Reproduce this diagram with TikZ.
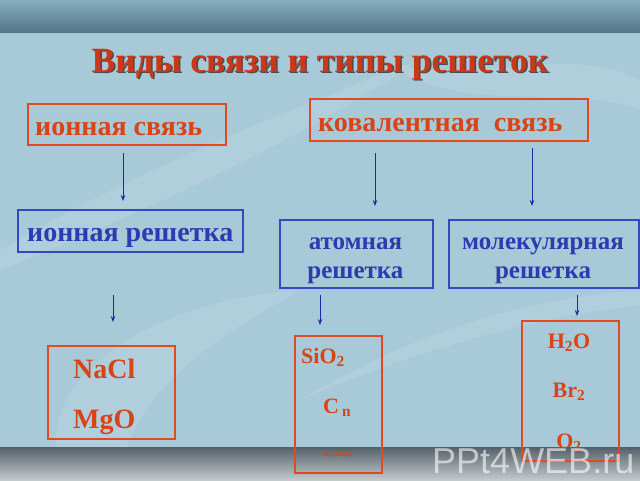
\documentclass[tikz,border=0pt]{standalone}
\usepackage{fontspec}
\setmainfont{Liberation Serif}
\newfontfamily\wmfont{Liberation Sans}
\usetikzlibrary{arrows.meta}
\definecolor{bgblue}{HTML}{A8C9D7}
\definecolor{bartopA}{HTML}{86ADBF}
\definecolor{bartopB}{HTML}{557787}
\definecolor{barbotA}{HTML}{55606A}
\definecolor{barbotB}{HTML}{C2CACB}
\definecolor{boxred}{HTML}{E04A1E}
\definecolor{txtred}{HTML}{D8441A}
\definecolor{titred}{HTML}{C8381A}
\definecolor{boxblue}{HTML}{3448C0}
\definecolor{txtblue}{HTML}{2C3CB0}
\definecolor{arrblue}{HTML}{1A2AA8}
\tikzset{
  rbox/.style={draw=boxred, line width=2.4pt, inner sep=0pt, anchor=north west},
  bbox/.style={draw=boxblue, line width=2.4pt, inner sep=0pt, anchor=north west},
  rtxt/.style={text=txtred, font=\bfseries\fontsize{28}{30}\selectfont, inner sep=0pt, anchor=base west},
  btxt/.style={text=txtblue, font=\bfseries\fontsize{28}{30}\selectfont, inner sep=0pt, anchor=base west},
  btxtb/.style={text=txtblue, font=\bfseries\fontsize{25}{27}\selectfont, inner sep=0pt, anchor=base},
  ftxt/.style={text=txtred, font=\bfseries\fontsize{28}{30}\selectfont, inner sep=0pt, anchor=base west},
  stxt/.style={text=txtred, font=\bfseries\fontsize{22}{24}\selectfont, inner sep=0pt},
  arr/.style={draw=arrblue, line width=0.9pt, -{Stealth[length=6pt,width=4.5pt]}},
  leaf/.style={white, opacity=0.10}
}
\begin{document}
\begin{tikzpicture}[x=1pt,y=-1pt]
\useasboundingbox (0,0) rectangle (640,480);
% background
\fill[bgblue] (0,0) rectangle (640,480);
\fill[leaf] (0,250) .. controls (120,180) and (260,120) .. (420,60) .. controls (300,140) and (150,210) .. (0,270) -- cycle;
\fill[leaf] (60,470) .. controls (30,380) and (150,300) .. (300,290) .. controls (230,330) and (140,380) .. (120,470) -- cycle;
\fill[leaf] (380,60) .. controls (470,90) and (560,40) .. (640,80) -- (640,110) .. controls (560,80) and (470,120) .. (380,60) -- cycle;
\fill[leaf] (300,400) .. controls (420,330) and (520,300) .. (640,290) -- (640,305) .. controls (520,320) and (420,350) .. (300,400) -- cycle;
\shade[top color=bartopA, bottom color=bartopB] (0,0) rectangle (640,32);
\shade[top color=barbotA, bottom color=barbotB] (0,447) rectangle (640,480);
% title
\node[text=black!70, font=\bfseries\fontsize{35.5}{38}\selectfont, inner sep=0pt, anchor=base] (titsh) at (321.5,73.5) {Виды связи и типы решеток};
\node[text=titred, font=\bfseries\fontsize{35.5}{38}\selectfont, inner sep=0pt, anchor=base] (title) at (320,72) {Виды связи и типы решеток};
% row 1
\node[rbox, minimum width=198pt, minimum height=41pt] (ion) at (27,103) {};
\node[rtxt] (iont) at (35,135) {ионная связь};
\node[rbox, minimum width=278pt, minimum height=42pt] (kov) at (309,98) {};
\node[rtxt] (kovt) at (318,131) {ковалентная \ связь};
% row 2
\node[bbox, minimum width=225pt, minimum height=42pt] (ionr) at (17,209) {};
\node[btxt] (ionrt) at (27,241) {ионная решетка};
\node[bbox, minimum width=153pt, minimum height=68pt] (atom) at (279,219) {};
\node[btxtb] (atomt1) at (355.5,249) {атомная};
\node[btxtb] (atomt2) at (355.5,278) {решетка};
\node[bbox, minimum width=190pt, minimum height=68pt] (mol) at (448,219) {};
\node[btxtb] (molt1) at (543,249) {молекулярная};
\node[btxtb] (molt2) at (543,278) {решетка};
% row 3
\node[rbox, minimum width=127pt, minimum height=93pt] (nacl) at (47,345) {};
\node[ftxt] (naclt) at (73,378) {NaCl};
\node[ftxt] (mgot) at (73,428) {MgO};
\node[rbox, minimum width=87pt, minimum height=137pt] (sio) at (294,335) {};
\node[stxt, anchor=base west] (siot) at (301,363) {SiO\textsubscript{2}};
\node[stxt, anchor=base west] (cnt) at (323,413) {C\kern3pt\textsubscript{n}};
\node[text=txtred, font=\bfseries\fontsize{11}{12}\selectfont, inner sep=0pt, anchor=base] (almt) at (338,456) {алмаз};
\node[rbox, minimum width=97pt, minimum height=140pt] (hoh) at (521,320) {};
\node[stxt, anchor=base] (h2ot) at (569,348) {H\textsubscript{2}O};
\node[stxt, anchor=base] (br2t) at (569,397) {Br\textsubscript{2}};
\node[stxt, anchor=base] (o2t) at (569,448) {O\textsubscript{2}};
% arrows
\coordinate (a1s) at (123,153); \coordinate (a1e) at (123,201);
\coordinate (a2s) at (375,153); \coordinate (a2e) at (375,206);
\coordinate (a3s) at (532,148); \coordinate (a3e) at (532,206);
\coordinate (a4s) at (113,295); \coordinate (a4e) at (113,322);
\coordinate (a5s) at (320,295); \coordinate (a5e) at (320,325);
\coordinate (a6s) at (577,295); \coordinate (a6e) at (577,316);
\draw[arr] (a1s) -- (a1e);
\draw[arr] (a2s) -- (a2e);
\draw[arr] (a3s) -- (a3e);
\draw[arr] (a4s) -- (a4e);
\draw[arr] (a5s) -- (a5e);
\draw[arr] (a6s) -- (a6e);
% watermark
\node[text=white, opacity=0.6, font=\wmfont\fontsize{36}{38}\selectfont, inner sep=0pt, anchor=base west] (wm) at (432,473) {PPt4WEB.ru};
\end{tikzpicture}
\end{document}
